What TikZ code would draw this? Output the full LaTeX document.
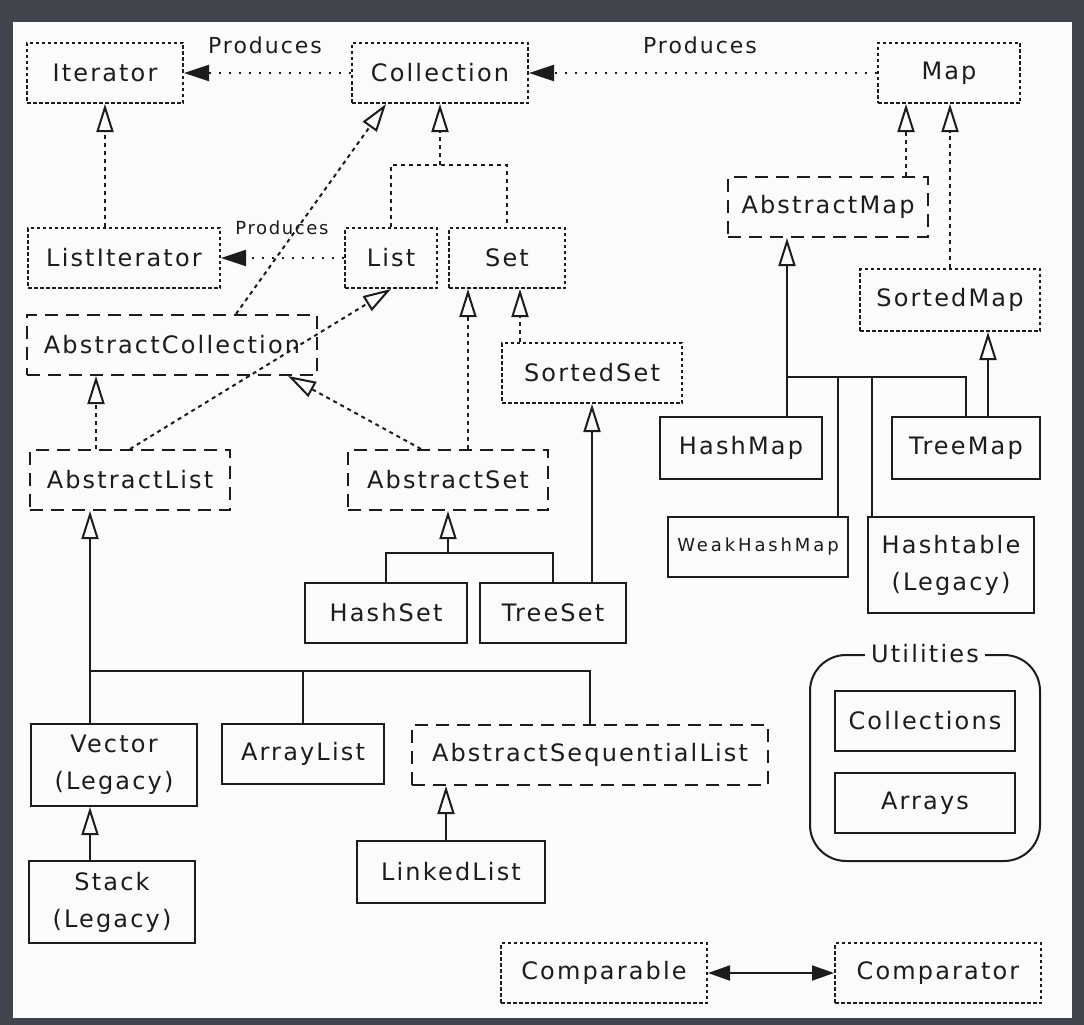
\documentclass[tikz,border=0pt]{standalone}
\usepackage{fontspec}
\setmainfont{DejaVu Sans}
\newfontfamily\boxfont{DejaVu Sans}[LetterSpace=9]
\newfontfamily\widefont{DejaVu Sans}[LetterSpace=16]
\usetikzlibrary{arrows.meta, positioning, calc}
\definecolor{inkgray}{RGB}{28, 28, 28}
\definecolor{framegray}{RGB}{65, 68, 76}
\definecolor{paper}{RGB}{251, 251, 249}
\tikzset{
  box/.style={draw=inkgray, line width=2pt, text=inkgray, inner sep=2pt, align=center,
    font=\boxfont\fontsize{24}{37}\selectfont},
  iface/.style={box, dash pattern=on 3.5pt off 2.5pt},
  abstr/.style={box, dash pattern=on 13pt off 8pt},
  concrete/.style={box},
  link/.style={draw=inkgray, line width=2pt},
  implline/.style={link, dash pattern=on 4pt off 4pt},
  impl/.style={implline, -{Triangle[open, length=28pt, width=17pt]}},
  extline/.style={link},
  ext/.style={link, -{Triangle[open, length=28pt, width=17pt]}},
  produces/.style={link, dash pattern=on 2pt off 8pt, -{Triangle[length=25pt, width=16pt]}},
  prodlabel/.style={text=inkgray, inner sep=0pt, font=\boxfont\fontsize{22}{24}\selectfont},
}

\begin{document}
\begin{tikzpicture}[x=1pt, y=-1pt]
  \useasboundingbox (0,0) rectangle (1084,1025);
  \fill[framegray] (0,0) rectangle (1084,1025);
  \fill[paper] (13,22) rectangle (1072,1018);

  % interfaces and classes
  \node[iface, minimum width=156, minimum height=60] (iter) at (105,73) {Iterator};
  \node[iface, minimum width=176, minimum height=60] (coll) at (440,73) {Collection};
  \node[iface, minimum width=142, minimum height=60] (map) at (949,73) {Map};
  \node[iface, minimum width=192, minimum height=60] (listiter) at (124,258) {ListIterator};
  \node[iface, minimum width=92, minimum height=60] (list) at (391,258) {List};
  \node[iface, minimum width=116, minimum height=60] (set) at (507,258) {Set};
  \node[abstr, minimum width=290, minimum height=60] (abscoll) at (172,345) {AbstractCollection};
  \node[abstr, minimum width=200, minimum height=60] (abslist) at (130,480) {AbstractList};
  \node[abstr, minimum width=200, minimum height=60] (absset) at (448,480) {AbstractSet};
  \node[iface, minimum width=180, minimum height=60] (sortedset) at (592,373) {SortedSet};
  \node[concrete, minimum width=162, minimum height=60] (hashset) at (386,613) {HashSet};
  \node[concrete, minimum width=146, minimum height=60] (treeset) at (553,613) {TreeSet};
  \node[abstr, minimum width=200, minimum height=60] (absmap) at (828,207) {AbstractMap};
  \node[iface, minimum width=180, minimum height=62] (sortedmap) at (950,300) {SortedMap};
  \node[concrete, minimum width=162, minimum height=62] (hashmap) at (741,448) {HashMap};
  \node[concrete, minimum width=148, minimum height=62] (treemap) at (966,448) {TreeMap};
  \node[concrete, minimum width=180, minimum height=60, font=\widefont\fontsize{18}{20}\selectfont] (weakmap) at (758,547) {WeakHashMap};
  \node[concrete, minimum width=166, minimum height=96] (hashtable) at (951,565) {Hashtable\\(Legacy)};
  \node[concrete, minimum width=166, minimum height=82] (vector) at (114,765) {Vector\\(Legacy)};
  \node[concrete, minimum width=162, minimum height=60] (arraylist) at (303,754) {ArrayList};
  \node[abstr, minimum width=356, minimum height=60] (absseq) at (590,755) {AbstractSequentialList};
  \node[concrete, minimum width=188, minimum height=62] (linkedlist) at (451,872) {LinkedList};
  \node[concrete, minimum width=166, minimum height=82] (stack) at (112,902) {Stack\\(Legacy)};
  \node[iface, minimum width=206, minimum height=60] (comparable) at (604,973) {Comparable};
  \node[iface, minimum width=206, minimum height=60] (comparator) at (938,973) {Comparator};

  % utilities group
  \node[box, rounded corners=36pt, minimum width=230, minimum height=206] (utils) at (925,758) {};
  \node[prodlabel, fill=paper, inner xsep=6pt, font=\boxfont\fontsize{24}{26}\selectfont] (utilstitle) at (utils.north) {Utilities};
  \node[concrete, minimum width=180, minimum height=60] (collections) at (925,721) {Collections};
  \node[concrete, minimum width=180, minimum height=60] (arrays) at (925,803) {Arrays};

  % produces
  \draw[produces] (coll.west) -- (iter.east);
  \draw[produces] (map.west) -- (coll.east);
  \draw[produces] (list.west) -- (listiter.east);
  \node[prodlabel] (prod1) at (265,45) {Produces};
  \node[prodlabel] (prod2) at (700,45) {Produces};
  \node[prodlabel, font=\boxfont\fontsize{18}{20}\selectfont] (prod3) at (282,228) {Produces};

  % collection side
  \coordinate (cj) at (440,165);
  \draw[implline] (list.north) |- (cj) -| (set.north);
  \draw[impl] (cj) -- (coll.south);
  \draw[impl] (iter.south |- listiter.north) -- (iter.south);
  \draw[impl] ([xshift=64]abscoll.north) -- ([xshift=-54]coll.south);
  \draw[impl] (abslist.north) -- (list.south);
  \draw[impl] ([xshift=-34]abslist.north) -- ([xshift=-34]abslist.north |- abscoll.south);
  \draw[impl] ([xshift=-27]absset.north) -- ([xshift=-30]abscoll.south east);
  \draw[impl] ([xshift=20]absset.north) -- ([xshift=20]absset.north |- set.south);
  \draw[impl] ([xshift=13]set.south |- sortedset.north) -- ([xshift=13]set.south);
  \draw[ext] (sortedset.south |- treeset.north) -- (sortedset.south);
  \coordinate (sj) at (448,553);
  \draw[extline] (hashset.north) |- (sj) -| (treeset.north);
  \draw[ext] (sj) -- (absset.south);

  % list classes
  \coordinate (lj) at (90,671);
  \draw[extline] (lj |- vector.north) -- (lj) -| (absseq.north);
  \draw[extline] (arraylist.north) -- (arraylist.north |- lj);
  \draw[ext] (lj) -- (lj |- abslist.south);
  \draw[ext] (lj |- stack.north) -- (lj |- vector.south);
  \draw[ext] ([xshift=-5]linkedlist.north) -- ([xshift=-5]linkedlist.north |- absseq.south);

  % map side
  \draw[impl] ([xshift=-43]map.south |- absmap.north) -- ([xshift=-43]map.south);
  \draw[impl] (sortedmap.north) -- (sortedmap.north |- map.south);
  \coordinate (mj) at (787,377);
  \draw[extline] (mj |- hashmap.north) -- (mj) -| (treemap.north);
  \draw[extline] ([xshift=80]weakmap.north) -- ([xshift=80]weakmap.north |- mj);
  \draw[extline] ([xshift=-79]hashtable.north) -- ([xshift=-79]hashtable.north |- mj);
  \draw[ext] (mj) -- (mj |- absmap.south);
  \draw[ext] ([xshift=22]treemap.north) -- ([xshift=22]treemap.north |- sortedmap.south);

  \draw[link, {Triangle[length=22pt, width=15pt]}-{Triangle[length=22pt, width=15pt]}] (comparable.east) -- (comparator.west);
\end{tikzpicture}
\end{document}
